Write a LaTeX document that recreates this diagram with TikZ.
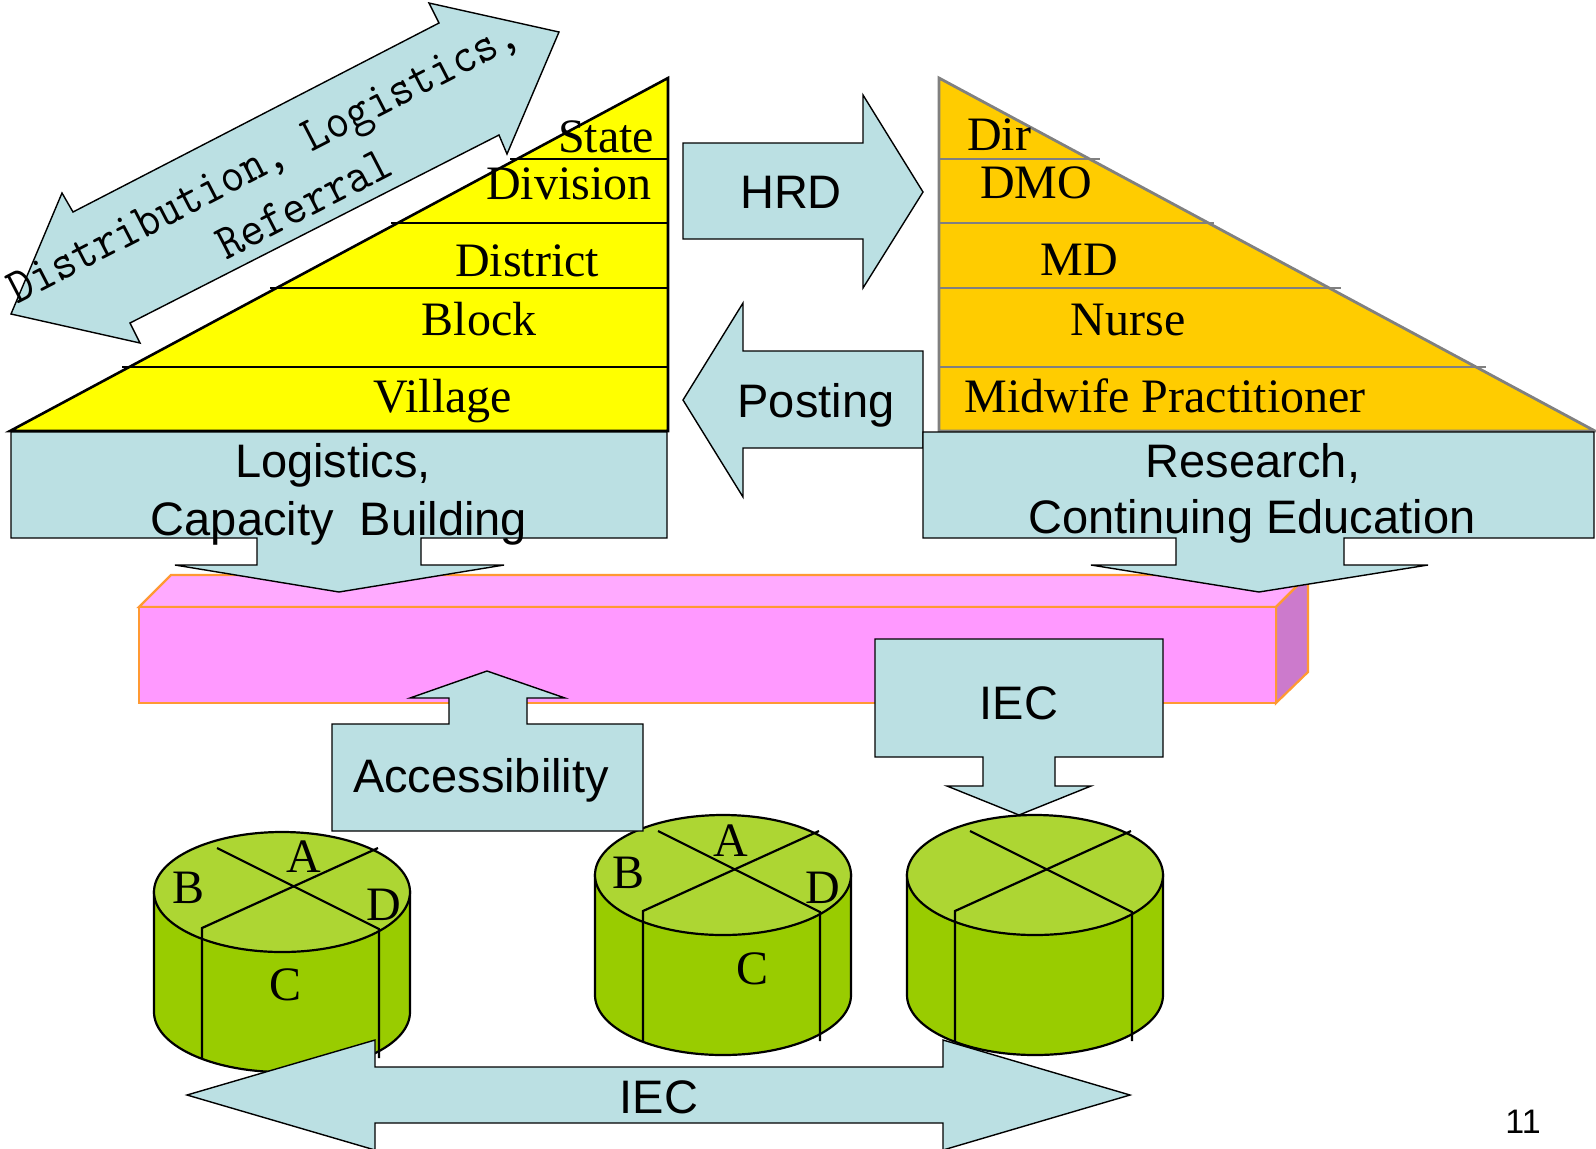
\documentclass[tikz,border=0pt]{standalone}
\usepackage{fontspec}
\setmainfont{Liberation Serif}
\setsansfont{Liberation Sans}
\usepackage{graphicx}
\usepackage{tikz}
\usetikzlibrary{positioning}
\definecolor{lblue}{RGB}{187,224,227}
\definecolor{pyryellow}{RGB}{255,255,0}
\definecolor{pyrorange}{RGB}{255,204,0}
\definecolor{pyrgray}{RGB}{128,128,128}
\definecolor{barfront}{RGB}{255,153,255}
\definecolor{bartop}{RGB}{255,170,255}
\definecolor{barside}{RGB}{204,122,204}
\definecolor{barline}{RGB}{255,153,51}
\definecolor{cylside}{RGB}{153,204,0}
\definecolor{cyltop}{RGB}{173,214,51}
\tikzstyle{blockarrow}=[draw=black,fill=lblue,line width=0.7pt]
\tikzstyle{sanslabel}=[font=\sffamily\fontsize{23.5}{28}\selectfont,inner sep=0pt,anchor=base]
\tikzstyle{seriflabel}=[font=\fontsize{24}{28}\selectfont,inner sep=0pt,anchor=base]
\tikzstyle{cylline}=[draw=black,line width=1.1pt]
\tikzstyle{barface}=[draw=barline,line width=1.1pt]
\tikzstyle{yellowline}=[draw=black,line width=1.3pt]
\tikzstyle{grayline}=[draw=pyrgray,line width=1.4pt]

\begin{document}
\begin{tikzpicture}[x=0.5pt,y=-0.5pt]
    \useasboundingbox (0,0) rectangle (1596,1148);

    % the pink bar
    \filldraw[barface,fill=bartop] (139,607) -- (171,575) -- (1308,575) -- (1276,607) -- cycle;
    \filldraw[barface,fill=barside] (1276,607) -- (1308,575) -- (1308,672) -- (1276,703) -- cycle;
    \filldraw[barface,fill=barfront] (139,607) rectangle (1276,703);

    % left pyramid
    \draw[yellowline,fill=pyryellow] (668,78) -- (668,431) -- (10,431) -- cycle;
    \foreach \y/\xl in {159/510, 223/391, 288/270, 367/122}
        \draw[yellowline] (\xl,\y) -- (668,\y);
    \foreach \pos/\name/\txt in {{(606,152)/state/State}, {(569,199)/division/Division}, {(527,276)/district/District}, {(479,335)/block/Block}, {(443,412)/village/Village}}
        \node[seriflabel] (\name) at \pos {\txt};

    % right pyramid
    \draw[grayline,fill=pyrorange] (939,78) -- (1595,431) -- (939,431) -- cycle;
    \foreach \y/\xr in {159/1100, 223/1214, 288/1341, 367/1486}
        \draw[grayline] (939,\y) -- (\xr,\y);
    \foreach \pos/\name/\txt in {{(999,150)/dir/Dir}, {(1036,198)/dmo/DMO}, {(1079,275)/md/MD}, {(1128,335)/nurse/Nurse}, {(1165,412)/midwife/Midwife Practitioner}}
        \node[seriflabel] (\name) at \pos {\txt};

    % double arrow along the slope
    \draw[blockarrow] (11,314) -- (140,343) -- (130,323) -- (499,135) -- (507,154) -- (559,32) -- (429,3) -- (439,23) -- (73,212) -- (62,193) -- cycle;
    \node[font=\ttfamily\fontsize{25}{28.5}\selectfont,align=center,rotate=27.3,inner sep=0pt] (distrib) at (276,186) {\scalebox{0.92}[1]{Distribution, Logistics,}\\\hspace*{17pt}\scalebox{0.92}[1]{Referral}};

    % HRD and Posting
    \draw[blockarrow] (683,143) -- (863,143) -- (863,95) -- (923,192) -- (863,288) -- (863,239) -- (683,239) -- cycle;
    \node[sanslabel] (hrd) at (791,208) {HRD};
    \draw[blockarrow] (683,400) -- (743,303) -- (743,351) -- (923,351) -- (923,448) -- (743,448) -- (743,497) -- cycle;
    \node[sanslabel] (posting) at (816,417) {Posting};

    % boxes under the pyramids
    \draw[blockarrow] (11,432) -- (667,432) -- (667,538) -- (421,538) -- (421,565) -- (504,565) -- (339,592) -- (175,565) -- (257,565) -- (257,538) -- (11,538) -- cycle;
    \node[sanslabel] (logist) at (333,477) {Logistics,};
    \node[sanslabel] (capacity) at (339,535) {Capacity~~Building};
    \draw[blockarrow] (923,432) -- (1594,432) -- (1594,538) -- (1344,538) -- (1344,565) -- (1428,565) -- (1259,592) -- (1091,565) -- (1176,565) -- (1176,538) -- (923,538) -- cycle;
    \node[sanslabel] (research) at (1253,477) {Research,};
    \node[sanslabel] (continuing) at (1252,533) {Continuing Education};

    % cylinders
    \foreach \cx/\cy in {282/892, 723/875, 1035/875} {
        \filldraw[cylline,fill=cylside] (\cx-128,\cy) -- (\cx-128,\cy+120) arc[start angle=180,end angle=0,x radius=128,y radius=60] -- (\cx+128,\cy) -- cycle;
        \filldraw[cylline,fill=cyltop] (\cx,\cy) ellipse[x radius=128,y radius=60];
        \draw[cylline] (\cx-65,\cy-44) -- (\cx+97,\cy+37) -- (\cx+97,\cy+166);
        \draw[cylline] (\cx+96,\cy-44) -- (\cx-80,\cy+36) -- (\cx-80,\cy+166);
    }
    \foreach \pos/\name/\txt in {{(189,903)/lb/B}, {(304,872)/la/A}, {(384,920)/ld/D}, {(286,1000)/lc/C}, {(629,888)/mb/B}, {(731,856)/ma/A}, {(823,903)/md/D}, {(752,984)/mc/C}}
        \node[seriflabel] (\name) at \pos {\txt};

    % Accessibility and IEC
    \draw[blockarrow] (332,724) -- (449,724) -- (449,698) -- (410,698) -- (487,671) -- (565,698) -- (527,698) -- (527,724) -- (643,724) -- (643,831) -- (332,831) -- cycle;
    \node[sanslabel] (access) at (481,792) {Accessibility};
    \draw[blockarrow] (875,639) -- (1163,639) -- (1163,757) -- (1055,757) -- (1055,786) -- (1091,786) -- (1019,815) -- (947,786) -- (983,786) -- (983,757) -- (875,757) -- cycle;
    \node[sanslabel] (iectop) at (1019,719) {IEC};

    % bottom double arrow
    \draw[blockarrow] (187,1095) -- (375,1040) -- (375,1067) -- (943,1067) -- (943,1040) -- (1130,1095) -- (943,1150) -- (943,1123) -- (375,1123) -- (375,1150) -- cycle;
    \node[sanslabel] (iecbottom) at (659,1113) {IEC};

    \node[sanslabel,font=\sffamily\fontsize{17}{20}\selectfont] (pagenum) at (1523,1133) {11};
\end{tikzpicture}
\end{document}
